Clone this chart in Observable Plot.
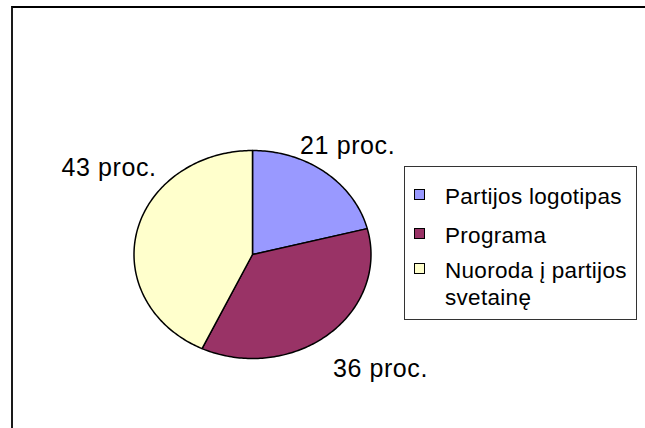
<!DOCTYPE html>
<html>
<head>
<meta charset="utf-8">
<script src="https://cdn.jsdelivr.net/npm/d3@7"></script>
<script src="https://cdn.jsdelivr.net/npm/@observablehq/plot@0.6"></script>
<style>
  html, body { margin: 0; padding: 0; background: #fff; }
  #wrap { position: relative; width: 645px; height: 428px; overflow: hidden; background: #fff;
          font-family: "Liberation Sans", Arial, sans-serif; color: #000; }
  #frame { position: absolute; left: 11px; top: 6px; width: 632px; height: 520px;
           border-left: 2px solid #1a1a1a; border-top: 2px solid #000; border-right: 1px solid #333; }
  #plot { position: absolute; left: 0; top: 0; }
  #legend { position: absolute; left: 404px; top: 166px; width: 231px; height: 152px;
            border: 1px solid #333; background: #fff; }
  .item { position: absolute; left: 0; font-size: 22.5px; line-height: 27px; letter-spacing: 0.3px; }
  .sw { position: absolute; left: 9px; top: 6px; width: 9px; height: 9px; border: 1.5px solid #000; }
  .tx { position: absolute; left: 40px; width: 195px; white-space: normal; }
</style>
</head>
<body>
<div id="wrap">
  <div id="frame"></div>
  <div id="plot"></div>
  <div id="legend"></div>
</div>
<script>
// ---- data ----
const categories = ["Partijos logotipas", "Programa", "Nuoroda į partijos svetainę"];
const values = [21, 36, 43];
const colors = ["#9999FF", "#993366", "#FFFFCC"];
const labels = values.map(v => `${v} proc.`);

// ---- pie geometry (angles measured clockwise from 12 o'clock) ----
const total = d3.sum(values);
const slices = [];
let acc = 0;
values.forEach((v, i) => {
  const a0 = acc / total, a1 = (acc + v) / total;
  acc += v;
  slices.push({cat: categories[i], label: labels[i], a0, a1, mid: (a0 + a1) / 2});
});
const pts = [];
for (const s of slices) {
  pts.push({cat: s.cat, x: 0, y: 0});
  const n = Math.max(2, Math.ceil((s.a1 - s.a0) * 360));
  for (let k = 0; k <= n; k++) {
    const a = 2 * Math.PI * (s.a0 + (s.a1 - s.a0) * k / n);
    pts.push({cat: s.cat, x: Math.sin(a), y: Math.cos(a)});
  }
}
const R = 1.31;
const lab = slices.map(s => ({
  cat: s.cat, label: s.label,
  x: R * Math.sin(2 * Math.PI * s.mid),
  y: R * Math.cos(2 * Math.PI * s.mid)
}));

const labelMark = (i, dx, dy) => Plot.text(lab.filter((d, j) => j === i), {
  x: "x", y: "y", text: "label", dx, dy,
  fontSize: 25, fill: "#000", textAnchor: "middle", lineAnchor: "middle"
});

const chart = Plot.plot({
  width: 645, height: 428,
  marginTop: 0, marginRight: 0, marginBottom: 0, marginLeft: 0,
  style: {background: "transparent", fontFamily: "Liberation Sans, Arial, sans-serif", letterSpacing: "0.6px"},
  x: {domain: [-1, 1], range: [133.5, 370.5], axis: null},
  y: {domain: [-1, 1], range: [358, 150], axis: null},
  color: {domain: categories, range: colors},
  marks: [
    Plot.line(pts, {x: "x", y: "y", z: "cat", fill: "cat", stroke: "#000",
                    strokeWidth: 1.5, curve: "linear-closed", strokeLinejoin: "round"}),
    labelMark(0, 0, -1),
    labelMark(1, 29, 10),
    labelMark(2, 8, -57)
  ]
});
document.getElementById("plot").appendChild(chart);

// ---- legend ----
const legend = document.getElementById("legend");
const itemTops = [16, 55, 90];
categories.forEach((c, i) => {
  const it = document.createElement("div");
  it.className = "item";
  it.style.top = itemTops[i] + "px";
  it.style.width = "231px";
  const sw = document.createElement("div");
  sw.className = "sw";
  sw.style.background = colors[i];
  const tx = document.createElement("div");
  tx.className = "tx";
  tx.textContent = c;
  it.appendChild(sw); it.appendChild(tx);
  legend.appendChild(it);
});
</script>
</body>
</html>
